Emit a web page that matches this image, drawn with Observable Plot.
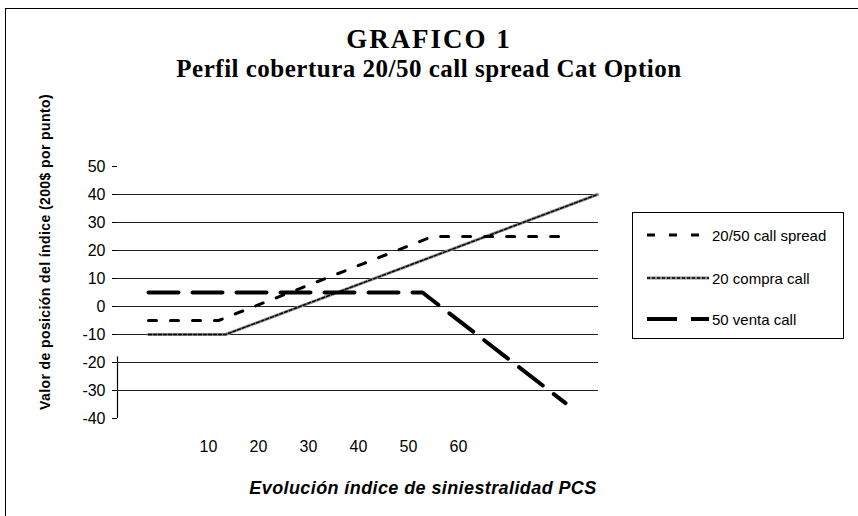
<!DOCTYPE html>
<html>
<head>
<meta charset="utf-8">
<script src="https://cdn.jsdelivr.net/npm/d3@7"></script>
<script src="https://cdn.jsdelivr.net/npm/@observablehq/plot@0.6"></script>
<style>
  html, body { margin: 0; padding: 0; background: #fff; }
  #wrap { position: relative; width: 858px; height: 516px; overflow: hidden; font-family: "Liberation Sans", Arial, sans-serif; }
  #chart { position: absolute; left: 0; top: 0; }
  #chart svg text { font-size: 16px; }
  .frame-top { position: absolute; left: 5px; top: 8px; width: 853px; height: 0; border-top: 1.5px solid #000; }
  .frame-left { position: absolute; left: 5px; top: 8px; width: 0; height: 508px; border-left: 1.5px solid #000; }
  .title { position: absolute; left: 0; width: 858px; text-align: center; font-family: "Liberation Serif", "Times New Roman", serif; font-weight: bold; color: #000; white-space: nowrap; }
  #t1 { top: 23px; font-size: 27px; line-height: 32px; letter-spacing: 2px; }
  #t2 { top: 54px; font-size: 25px; line-height: 30px; letter-spacing: 0.5px; }
  #ylab { position: absolute; left: 45px; top: 252px; transform: translate(-50%, -50%) rotate(-90deg); font-weight: bold; font-size: 14px; letter-spacing: 0.4px; white-space: nowrap; }
  #xlab { position: absolute; left: 423px; top: 488px; transform: translate(-50%, -50%); font-weight: bold; font-style: italic; font-size: 18px; letter-spacing: 0.4px; white-space: nowrap; }
  #legend { position: absolute; left: 632px; top: 212px; width: 212px; height: 127px; border: 1px solid #000; box-sizing: border-box; }
  .item { position: absolute; left: 14px; height: 18px; display: flex; align-items: center; font-size: 15px; white-space: nowrap; }
  .item svg { margin-right: 3px; }
</style>
</head>
<body>
<div id="wrap">
  <div class="frame-top"></div>
  <div class="frame-left"></div>
  <div id="chart"></div>
  <div class="title" id="t1">GRAFICO 1</div>
  <div class="title" id="t2">Perfil cobertura 20/50 call spread Cat Option</div>
  <div id="ylab">Valor de posición del índice (200$ por punto)</div>
  <div id="xlab">Evolución índice de siniestralidad PCS</div>
  <div id="legend"></div>
</div>
<script>
// ---- data ----
const seriesNames = ["20/50 call spread", "20 compra call", "50 venta call"];
const spreadX = [-2, 12, 54.8, 81.4];
const spreadY = [-5, -5, 25, 25];
const compraX = [-2, 13.4, 87.8];
const compraY = [-10, -10, 40];
const ventaX  = [-2, 52.8, 81.4];
const ventaY  = [5, 5, -34.5];
const xTicks = [10, 20, 30, 40, 50, 60];
const yTicks = [50, 40, 30, 20, 10, 0, -10, -20, -30, -40];
const gridValues = [40, 30, 20, 10, 0, -10, -20, -30];
const xDomain = [-8.2, 88];
const yDomain = [-40, 50];

const toRows = (xs, ys) => xs.map((x, i) => ({x, y: ys[i]}));
const spread = toRows(spreadX, spreadY);
const compra = toRows(compraX, compraY);
const venta = toRows(ventaX, ventaY);

const styles = {
  spread: {stroke: "#000", strokeWidth: 3, strokeDasharray: "8,14"},
  compraBase: {stroke: "#888", strokeWidth: 3},
  compraTex: {stroke: "#000", strokeWidth: 1.4, strokeDasharray: "3,2"},
  venta: {stroke: "#000", strokeWidth: 4, strokeDasharray: "30,14"}
};

const chart = Plot.plot({
  width: 858,
  height: 516,
  marginLeft: 117,
  marginRight: 260,
  marginTop: 166,
  marginBottom: 98,
  style: {fontFamily: "Liberation Sans, Arial, sans-serif", fontSize: "16px", background: "transparent", color: "#000"},
  x: {domain: xDomain, ticks: xTicks, tickSize: 0, tickPadding: 22, tickFormat: d => String(d), label: null},
  y: {domain: yDomain, ticks: yTicks, tickSize: 5, tickPadding: 7, tickFormat: d => String(d), label: null},
  marks: [
    Plot.ruleY(gridValues, {stroke: "#222", strokeWidth: 1}),
    Plot.ruleX([xDomain[0]], {y1: yDomain[0], y2: -18, stroke: "#000", strokeWidth: 1.2}),
    Plot.line(compra, {x: "x", y: "y", ...styles.compraBase}),
    Plot.line(compra, {x: "x", y: "y", ...styles.compraTex}),
    Plot.line(spread, {x: "x", y: "y", ...styles.spread}),
    Plot.line(venta, {x: "x", y: "y", ...styles.venta})
  ]
});
document.getElementById("chart").appendChild(chart);

// ---- legend ----
const legend = document.getElementById("legend");
const ns = "http://www.w3.org/2000/svg";
const items = [
  {name: seriesNames[0], top: 13, lines: [styles.spread]},
  {name: seriesNames[1], top: 56, lines: [styles.compraBase, styles.compraTex]},
  {name: seriesNames[2], top: 97, lines: [styles.venta]}
];
for (const it of items) {
  const div = document.createElement("div");
  div.className = "item";
  div.style.top = it.top + "px";
  const svg = document.createElementNS(ns, "svg");
  svg.setAttribute("width", 62);
  svg.setAttribute("height", 10);
  for (const s of it.lines) {
    const l = document.createElementNS(ns, "line");
    l.setAttribute("x1", 0); l.setAttribute("x2", 62);
    l.setAttribute("y1", 5); l.setAttribute("y2", 5);
    l.setAttribute("stroke", s.stroke);
    l.setAttribute("stroke-width", s.strokeWidth);
    if (s.strokeDasharray) l.setAttribute("stroke-dasharray", s.strokeDasharray);
    svg.appendChild(l);
  }
  div.appendChild(svg);
  const span = document.createElement("span");
  span.textContent = it.name;
  div.appendChild(span);
  legend.appendChild(div);
}
</script>
</body>
</html>
